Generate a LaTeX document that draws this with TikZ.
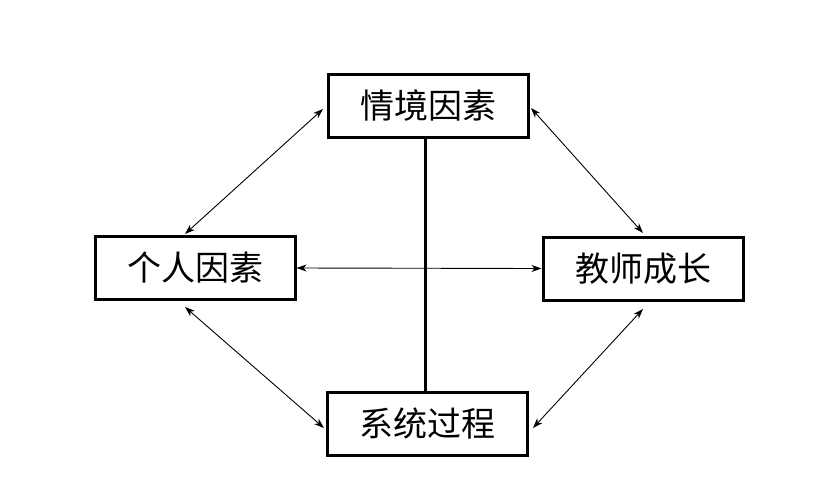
\documentclass[tikz,border=0pt]{standalone}
\usepackage{fontspec}
\newfontfamily\cjk{Noto Sans CJK SC}[Scale=1]
\usetikzlibrary{arrows.meta}
\begin{document}
\begin{tikzpicture}[x=1pt,y=-1pt,
  box/.style={draw,line width=3pt,minimum width=200pt,minimum height=63pt,inner sep=0pt,font=\cjk\fontsize{34}{34}\selectfont},
  link/.style={line width=0.9pt,{Stealth[length=10pt,width=7pt,inset=3pt]}-{Stealth[length=10pt,width=7pt,inset=3pt]}},
  bar/.style={line width=3pt}]
\useasboundingbox (0,0) rectangle (838,501);
\node[box] (top) at (428,105.5) {情境因素};
\node[box] (left) at (195,268) {个人因素};
\node[box] (right) at (643,268.5) {教师成长};
\node[box] (bottom) at (427.5,423.5) {系统过程};
\coordinate (tl1) at (323,109);
\coordinate (tl2) at (185,234);
\coordinate (bl1) at (185,307);
\coordinate (bl2) at (324,428);
\coordinate (tr1) at (531,108);
\coordinate (tr2) at (643,233);
\coordinate (br1) at (643,309);
\coordinate (br2) at (533,428);
\draw[bar] (top.south -| 425,0) -- (bottom.north -| 425,0);
\draw[link] (left.east) -- (right.west);
\draw[link] (tl1) -- (tl2);
\draw[link] (bl1) -- (bl2);
\draw[link] (tr1) -- (tr2);
\draw[link] (br1) -- (br2);
\end{tikzpicture}
\end{document}
